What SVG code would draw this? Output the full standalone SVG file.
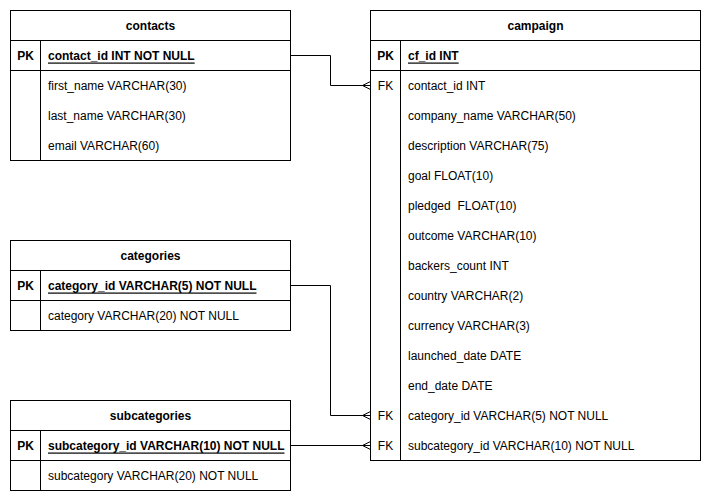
<svg xmlns="http://www.w3.org/2000/svg" width="711" height="501" viewBox="0 0 711 501">
<style>
.box{fill:#fff;stroke:#000;stroke-width:1}
.ln{stroke:#000;stroke-width:1;fill:none}
text{font-family:"Liberation Sans",Arial,Helvetica,sans-serif;font-size:12px;fill:#000;dominant-baseline:central}
.t{font-weight:bold;text-anchor:middle}
.k{font-weight:bold;text-anchor:middle}
.pk{font-weight:bold;text-decoration:underline}
.fk{text-anchor:middle}
</style>
<defs>
<marker id="many" markerUnits="userSpaceOnUse" markerWidth="12" markerHeight="12" refX="10" refY="6" orient="auto" viewBox="0 0 12 12">
<path d="M10,2 L2,6 L10,10 M2,6 L10,6" fill="none" stroke="#000" stroke-width="1"/>
</marker>
</defs>
<rect width="711" height="501" fill="#fff"/>
<g id="contacts">
<rect class="box" x="10.5" y="10.5" width="280" height="150"/>
<path class="ln" d="M10.5,40.5H290.5M10.5,70.5H290.5M40.5,40.5V160.5"/>
<text class="t" x="150.5" y="25.5">contacts</text>
<text class="k" x="25.5" y="55.5">PK</text>
<text class="pk" x="48" y="55.5">contact_id INT NOT NULL</text>
<text x="48" y="85.5">first_name VARCHAR(30)</text>
<text x="48" y="115.5">last_name VARCHAR(30)</text>
<text x="48" y="145.5">email VARCHAR(60)</text>
</g>
<g id="categories">
<rect class="box" x="10.5" y="240.5" width="280" height="90"/>
<path class="ln" d="M10.5,270.5H290.5M10.5,300.5H290.5M40.5,270.5V330.5"/>
<text class="t" x="150.5" y="255.5">categories</text>
<text class="k" x="25.5" y="285.5">PK</text>
<text class="pk" x="48" y="285.5">category_id VARCHAR(5) NOT NULL</text>
<text x="48" y="315.5">category VARCHAR(20) NOT NULL</text>
</g>
<g id="subcategories">
<rect class="box" x="10.5" y="400.5" width="280" height="90"/>
<path class="ln" d="M10.5,430.5H290.5M10.5,460.5H290.5M40.5,430.5V490.5"/>
<text class="t" x="150.5" y="415.5">subcategories</text>
<text class="k" x="25.5" y="445.5">PK</text>
<text class="pk" x="48" y="445.5">subcategory_id VARCHAR(10) NOT NULL</text>
<text x="48" y="475.5">subcategory VARCHAR(20) NOT NULL</text>
</g>
<g id="campaign">
<rect class="box" x="370.5" y="10.5" width="330" height="450"/>
<path class="ln" d="M370.5,40.5H700.5M370.5,70.5H700.5M400.5,40.5V460.5"/>
<text class="t" x="535.5" y="25.5">campaign</text>
<text class="k" x="385.5" y="55.5">PK</text>
<text class="pk" x="408" y="55.5">cf_id INT</text>
<text class="fk" x="385.5" y="85.5">FK</text>
<text x="408" y="85.5">contact_id INT</text>
<text x="408" y="115.5">company_name VARCHAR(50)</text>
<text x="408" y="145.5">description VARCHAR(75)</text>
<text x="408" y="175.5">goal FLOAT(10)</text>
<text x="408" y="205.5" xml:space="preserve">pledged  FLOAT(10)</text>
<text x="408" y="235.5">outcome VARCHAR(10)</text>
<text x="408" y="265.5">backers_count INT</text>
<text x="408" y="295.5">country VARCHAR(2)</text>
<text x="408" y="325.5">currency VARCHAR(3)</text>
<text x="408" y="355.5">launched_date DATE</text>
<text x="408" y="385.5">end_date DATE</text>
<text class="fk" x="385.5" y="415.5">FK</text>
<text x="408" y="415.5">category_id VARCHAR(5) NOT NULL</text>
<text class="fk" x="385.5" y="445.5">FK</text>
<text x="408" y="445.5">subcategory_id VARCHAR(10) NOT NULL</text>
</g>
<g id="connectors">
<path class="ln" d="M290.5,55.5H330.5V85.5H370.5" marker-end="url(#many)"/>
<path class="ln" d="M290.5,285.5H330.5V415.5H370.5" marker-end="url(#many)"/>
<path class="ln" d="M290.5,445.5H370.5" marker-end="url(#many)"/>
</g>
</svg>
